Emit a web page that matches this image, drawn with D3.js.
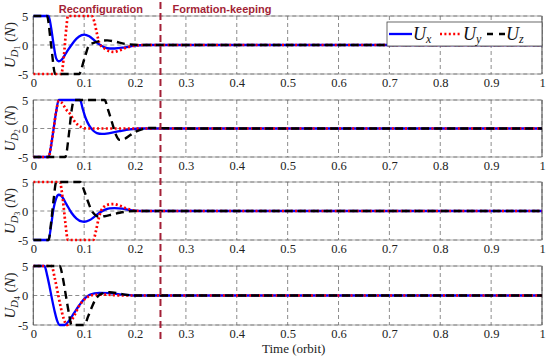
<!DOCTYPE html>
<html><head><meta charset="utf-8">
<script src="https://cdn.jsdelivr.net/npm/d3@7"></script>
<style>body{margin:0;background:#fff} svg{display:block} .serif{font-family:"Liberation Serif","DejaVu Serif",serif !important}</style>
</head><body><svg id="c" width="550" height="361"></svg>
<script>
// ---- data ----
const xTicks = [0,0.1,0.2,0.3,0.4,0.5,0.6,0.7,0.8,0.9,1];
const xTickLabels = ["0","0.1","0.2","0.3","0.4","0.5","0.6","0.7","0.8","0.9","1"];
const yTicks = [-5,0,5];
const yTickLabels = ["-5","0","5"];
const panelIdx = ["1","2","3","4"];
const phaseSplit = 0.25;
const phaseLabels = ["Reconfiguration","Formation-keeping"];

const d1Ux = [[0,5],[0.03,5],[0.035,3],[0.04,0],[0.045,-2.3],[0.05,-2.8],[0.055,-2.6],[0.065,-1.3],[0.075,0],[0.085,1.1],[0.095,1.7],[0.1,1.8],[0.11,1.5],[0.12,0.8],[0.13,0.1],[0.14,-0.4],[0.15,-0.6],[0.16,-0.6],[0.18,-0.4],[0.2,-0.1],[0.22,0],[1,0]];
const d1Uy = [[0,-5],[0.055,-5],[0.06,-2],[0.065,3],[0.068,5],[0.115,5],[0.12,4],[0.125,2],[0.13,0.3],[0.14,-0.6],[0.15,-1.1],[0.158,-1.2],[0.17,-0.9],[0.185,-0.4],[0.2,-0.1],[0.21,0],[1,0]];
const d1Uz = [[0,5],[0.027,5],[0.035,0],[0.043,-5],[0.09,-5],[0.1,-2.5],[0.11,0],[0.12,0.4],[0.135,0.75],[0.145,0.8],[0.16,0.6],[0.18,0.2],[0.2,0.05],[0.22,0],[1,0]];

const d2Ux = [[0,-5],[0.03,-5],[0.035,-3],[0.04,0],[0.045,3],[0.05,5],[0.092,5],[0.097,3.5],[0.103,1.8],[0.11,0.5],[0.118,-0.4],[0.125,-0.8],[0.135,-0.95],[0.15,-0.8],[0.17,-0.45],[0.19,-0.15],[0.21,0],[1,0]];
const d2Uy = [[0,-5],[0.03,-5],[0.035,-3],[0.04,0],[0.045,3],[0.05,4.8],[0.055,4.6],[0.06,4],[0.065,3.3],[0.072,2.6],[0.08,1.4],[0.088,0.6],[0.095,0.2],[0.105,0],[1,0]];
const d2Uz = [[0,-5],[0.063,-5],[0.07,-1],[0.075,3],[0.08,5],[0.14,5],[0.148,3],[0.155,1],[0.162,-1],[0.17,-2],[0.18,-1.8],[0.19,-1.2],[0.2,-0.6],[0.215,-0.1],[0.23,0.1],[0.26,0.05],[0.3,0],[1,0]];

const d3Ux = [[0,-5],[0.03,-5],[0.035,-2.5],[0.04,0.5],[0.045,2.2],[0.05,2.8],[0.055,2.6],[0.065,1.2],[0.075,-0.3],[0.085,-1.3],[0.095,-1.8],[0.1,-1.85],[0.11,-1.6],[0.12,-1],[0.13,-0.3],[0.14,0.2],[0.15,0.45],[0.16,0.5],[0.175,0.4],[0.19,0.15],[0.2,0.05],[0.21,0],[1,0]];
const d3Uy = [[0,5],[0.052,5],[0.058,2],[0.063,-2],[0.068,-5],[0.118,-5],[0.123,-3.5],[0.128,-1.5],[0.133,0],[0.14,0.8],[0.15,1.15],[0.158,1.2],[0.17,0.9],[0.185,0.4],[0.2,0.05],[0.21,0],[1,0]];
const d3Uz = [[0,-5],[0.03,-5],[0.035,-2],[0.04,2],[0.045,5],[0.092,5],[0.1,3.5],[0.108,1.5],[0.115,0],[0.122,-0.7],[0.13,-1],[0.14,-0.9],[0.155,-0.6],[0.17,-0.3],[0.185,-0.1],[0.2,0],[1,0]];

const d4Ux = [[0,5],[0.022,5],[0.027,3.5],[0.032,1.5],[0.037,-0.7],[0.042,-2.7],[0.047,-4.3],[0.052,-5],[0.062,-5],[0.07,-4.3],[0.08,-3],[0.09,-1.7],[0.1,-0.6],[0.11,0.1],[0.12,0.35],[0.13,0.45],[0.15,0.4],[0.17,0.2],[0.19,0.05],[0.2,0],[1,0]];
const d4Uy = [[0,5],[0.036,5],[0.042,3],[0.048,0.5],[0.054,-2],[0.06,-4],[0.066,-5],[0.07,-4.8],[0.08,-3.5],[0.09,-1.8],[0.1,-0.7],[0.11,-0.1],[0.12,0.1],[0.14,0.15],[0.16,0.05],[0.18,0],[1,0]];
const d4Uz = [[0,5],[0.052,5],[0.058,3],[0.064,0],[0.07,-3],[0.075,-5],[0.1,-5],[0.108,-3.5],[0.115,-2],[0.122,-0.7],[0.13,0.1],[0.14,0.45],[0.15,0.55],[0.165,0.4],[0.18,0.15],[0.2,0],[1,0]];

const panelData = [[d1Ux,d1Uy,d1Uz],[d2Ux,d2Uy,d2Uz],[d3Ux,d3Uy,d3Uz],[d4Ux,d4Uy,d4Uz]];

// ---- styles / layout ----
const seriesStyle = [
  {color:"#0000ff", width:2.3, dash:null},
  {color:"#ff0000", width:2.7, dash:"2,2.4"},
  {color:"#000000", width:2.4, dash:"8,5"}
];
const accent = "#a31f36";
const left = 33.3, right = 542;
const panelTops = [16,100,182,266];
const panelBots = [74,157,240,325];

const svg = d3.select("#c");
const x = d3.scaleLinear().domain([0,1]).range([left,right]);

panelData.forEach((series, p) => {
  const y = d3.scaleLinear().domain([-5,5]).range([panelBots[p], panelTops[p]]);
  const g = svg.append("g");
  const cid = "clip"+p;
  svg.append("clipPath").attr("id",cid).append("rect")
    .attr("x",left).attr("y",panelTops[p]-2).attr("width",right-left).attr("height",panelBots[p]-panelTops[p]+4);

  g.append("rect").attr("x",left).attr("y",panelTops[p]).attr("width",right-left)
    .attr("height",panelBots[p]-panelTops[p]).attr("fill","#fff").attr("stroke","#9a9a9a").attr("stroke-width",0.8);
  g.selectAll(".gx").data(xTicks).enter().append("line")
    .attr("x1",d=>x(d)).attr("x2",d=>x(d)).attr("y1",panelTops[p]).attr("y2",panelBots[p])
    .attr("stroke","#6e6e6e").attr("stroke-width",0.8).attr("stroke-dasharray","4,3");
  g.selectAll(".gy").data(yTicks).enter().append("line")
    .attr("x1",left).attr("x2",right).attr("y1",d=>y(d)).attr("y2",d=>y(d))
    .attr("stroke","#6e6e6e").attr("stroke-width",0.8).attr("stroke-dasharray","4,3");
  [left,right].forEach(xx=>g.append("line").attr("x1",xx).attr("x2",xx).attr("y1",panelTops[p]).attr("y2",panelBots[p])
    .attr("stroke","#555").attr("stroke-width",0.8));

  const xa = d3.axisBottom(x).tickValues(xTicks).tickFormat((d,i)=>xTickLabels[i]).tickSize(0).tickPadding(4);
  const xg = g.append("g").attr("transform",`translate(0,${panelBots[p]})`).call(xa);
  xg.attr("font-family",null).attr("font-size",null);
  xg.select(".domain").remove();
  xg.selectAll("text").attr("class","serif").style("font-size","12.5px").attr("fill","#222");
  const ya = d3.axisLeft(y).tickValues(yTicks).tickFormat((d,i)=>yTickLabels[i]).tickSize(0).tickPadding(5);
  const yg = g.append("g").attr("transform",`translate(${left},0)`).call(ya);
  yg.attr("font-family",null).attr("font-size",null);
  yg.select(".domain").remove();
  yg.selectAll("text").attr("class","serif").style("font-size","12.5px").attr("fill","#222");

  const line = d3.line().x(d=>x(d[0])).y(d=>y(d[1])).curve(d3.curveMonotoneX);
  series.forEach((s,i)=>{
    const st = seriesStyle[i];
    g.append("path").attr("d",line(s)).attr("fill","none").attr("clip-path",`url(#${cid})`)
      .attr("stroke",st.color).attr("stroke-width",st.width)
      .attr("stroke-dasharray",st.dash);
  });

  const cy = (panelTops[p]+panelBots[p])/2;
  const t = svg.append("text").attr("class","serif").attr("transform",`translate(15,${cy}) rotate(-90)`)
    .attr("text-anchor","middle").style("font-size","15px").attr("fill","#222");
  t.append("tspan").attr("font-style","italic").text("U");
  t.append("tspan").attr("font-style","italic").style("font-size","10.5px").attr("dy",3).text("D");
  t.append("tspan").style("font-size","7.5px").attr("dy",2).text(panelIdx[p]);
  t.append("tspan").attr("dy",-5).text(" (");
  t.append("tspan").attr("font-style","italic").text("N");
  t.append("tspan").text(")");
});

svg.append("line").attr("x1",x(phaseSplit)).attr("x2",x(phaseSplit)).attr("y1",2).attr("y2",342)
  .attr("stroke",accent).attr("stroke-width",2).attr("stroke-dasharray","7,4");
svg.append("text").attr("x",(x(0)+x(phaseSplit))/2+4).attr("y",13).attr("text-anchor","middle")
  .style("font-family","'Liberation Sans', Arial, sans-serif").attr("font-weight","bold").style("font-size","11px")
  .attr("fill",accent).text(phaseLabels[0]);
svg.append("text").attr("x",x(phaseSplit)+12).attr("y",13).attr("text-anchor","start")
  .style("font-family","'Liberation Sans', Arial, sans-serif").attr("font-weight","bold").style("font-size","11px")
  .attr("fill",accent).text(phaseLabels[1]);

svg.append("text").attr("class","serif").attr("x",(left+right)/2+6).attr("y",353).attr("text-anchor","middle")
  .style("font-size","13px").attr("fill","#222").text("Time (orbit)");

const lg = svg.append("g");
lg.append("rect").attr("x",387).attr("y",22).attr("width",155).attr("height",24)
  .attr("fill","#fff").attr("stroke","#444").attr("stroke-width",0.8);
const legItems = [
  {x0:389, x1:412, tx:413, sub:"x"},
  {x0:440, x1:462, tx:463, sub:"y"},
  {x0:487, x1:505, tx:506, sub:"z"}
];
legItems.forEach((it,i)=>{
  const st = seriesStyle[i];
  lg.append("line").attr("x1",it.x0).attr("x2",it.x1).attr("y1",34).attr("y2",34)
    .attr("stroke",st.color).attr("stroke-width",st.width).attr("stroke-dasharray",i===2?"6,6":st.dash);
  const tt = lg.append("text").attr("class","serif").attr("x",it.tx).attr("y",40)
    .style("font-size","18px").attr("font-style","italic").attr("fill","#111");
  tt.append("tspan").text("U");
  tt.append("tspan").style("font-size","12px").attr("dy",3).text(it.sub);
});
</script></body></html>
